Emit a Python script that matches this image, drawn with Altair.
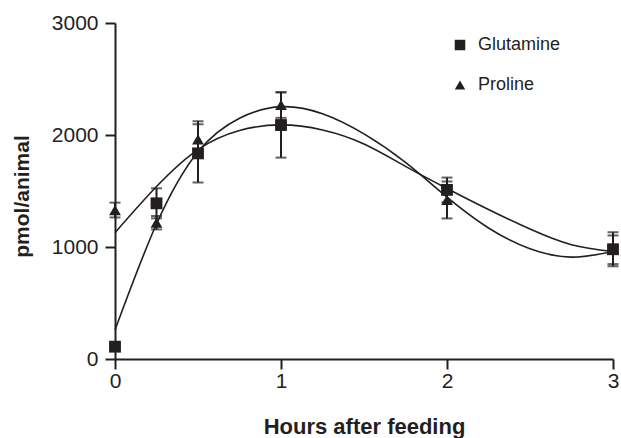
import altair as alt
import pandas as pd

# ---- data ----
hours = [0, 0.25, 0.5, 1, 2, 3]
glutamine = [110, 1390, 1836, 2089, 1510, 980]
glutamine_err = [20, 134, 260, 291, 110, 152]
proline = [1330, 1217, 1961, 2268, 1420, 975]
proline_err = [66, 60, 162, 115, 165, 128]

# the two fitted curves, every 0.25 h
curve_hours = [0, 0.25, 0.5, 0.75, 1, 1.25, 1.5, 1.75, 2, 2.25, 2.5, 2.75, 3]
curve_steep = [259, 1205, 1850, 2150, 2253, 2190, 2010, 1755, 1445, 1170, 985, 910, 960]
curve_flat = [1128, 1540, 1870, 2040, 2090, 2045, 1920, 1720, 1523, 1335, 1160, 1020, 960]

x_ticks = [0, 1, 2, 3]
y_ticks = [0, 1000, 2000, 3000]

FONT = "Liberation Sans"
INK = "#231f20"

pts = pd.DataFrame({
    "hours": hours * 2,
    "value": glutamine + proline,
    "err": glutamine_err + proline_err,
    "compound": ["Glutamine"] * len(hours) + ["Proline"] * len(hours),
})
pts["lower"] = pts["value"] - pts["err"]
pts["upper"] = pts["value"] + pts["err"]

caps = pd.DataFrame({
    "hours": list(pts["hours"]) * 2,
    "cap": list(pts["lower"]) + list(pts["upper"]),
})

fits = pd.DataFrame({
    "hours": curve_hours * 2,
    "value": curve_steep + curve_flat,
    "curve": ["steep"] * len(curve_hours) + ["flat"] * len(curve_hours),
})

x_axis = alt.Axis(
    values=x_ticks, format="d", title="Hours after feeding", grid=False,
    domainColor=INK, domainWidth=2, tickColor=INK, tickWidth=2, tickSize=10,
    labelFont=FONT, labelFontSize=21, labelColor=INK, labelFlush=False,
    labelBaseline="alphabetic", labelPadding=18,
    titleFont=FONT, titleFontSize=22, titleFontWeight="bold", titleColor=INK,
    titleBaseline="alphabetic", titleY=74,
)
y_axis = alt.Axis(
    values=y_ticks, format="d", title="pmol/animal", grid=False,
    domainColor=INK, domainWidth=2, tickColor=INK, tickWidth=2, tickSize=10,
    labelFont=FONT, labelFontSize=21, labelColor=INK, labelPadding=7,
    titleFont=FONT, titleFontSize=21, titleFontWeight="bold", titleColor=INK,
    titleAngle=270, titleBaseline="alphabetic", titleAlign="center",
    titleX=-87, titleY=173,
)
x_scale = alt.Scale(domain=[0, 3], nice=False, zero=False)
y_scale = alt.Scale(domain=[0, 3000], nice=False)

X = alt.X("hours:Q", scale=x_scale, axis=x_axis)
Y = alt.Y("value:Q", scale=y_scale, axis=y_axis)

curves = alt.Chart(fits).mark_line(
    color=INK, strokeWidth=1.6, interpolate="natural"
).encode(x=X, y=Y, detail="curve:N")

bars = alt.Chart(pts).mark_rule(color=INK, strokeWidth=2).encode(
    x=alt.X("hours:Q", scale=x_scale),
    y=alt.Y("lower:Q", scale=y_scale),
    y2="upper:Q",
)

cap_marks = alt.Chart(caps).mark_tick(
    color=INK, orient="horizontal", size=11, thickness=2
).encode(
    x=alt.X("hours:Q", scale=x_scale),
    y=alt.Y("cap:Q", scale=y_scale),
)

points = alt.Chart(pts).mark_point(filled=True, color=INK, opacity=1, size=140).encode(
    x=alt.X("hours:Q", scale=x_scale),
    y=alt.Y("value:Q", scale=y_scale),
    shape=alt.Shape(
        "compound:N",
        scale=alt.Scale(domain=["Glutamine", "Proline"], range=["square", "triangle-up"]),
        legend=alt.Legend(
            title=None, orient="none", legendX=336, legendY=13,
            labelFont=FONT, labelFontSize=18, labelColor=INK,
            symbolSize=110, symbolFillColor=INK, symbolStrokeColor=INK,
            symbolStrokeWidth=0, rowPadding=22, labelOffset=9, padding=0,
        ),
    ),
)

chart = alt.layer(curves, bars, cap_marks, points).properties(
    width=498, height=336,
    padding={"left": 115, "top": 23, "right": 8, "bottom": 79},
    autosize="none",
    background="white",
).configure_view(stroke=None)

chart.save("out.html", embed_options={"renderer": "svg", "actions": False})
